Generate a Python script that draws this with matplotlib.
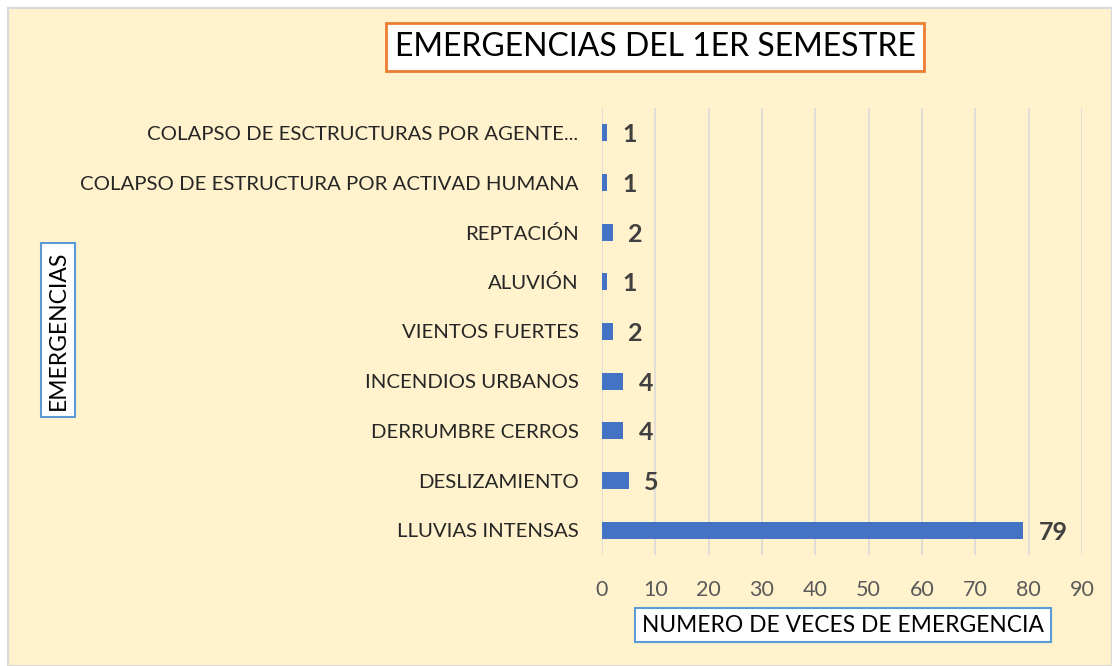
import matplotlib.pyplot as plt
from matplotlib.patches import Rectangle

categorias = ['LLUVIAS INTENSAS', 'DESLIZAMIENTO', 'DERRUMBRE CERROS', 'INCENDIOS URBANOS',
              'VIENTOS FUERTES', 'ALUVIÓN', 'REPTACIÓN',
              'COLAPSO DE ESTRUCTURA POR ACTIVAD HUMANA', 'COLAPSO DE ESCTRUCTURAS POR AGENTE...']
valores = [79, 5, 4, 4, 2, 1, 2, 1, 1]
ticks_x = [0, 10, 20, 30, 40, 50, 60, 70, 80, 90]

plt.rcParams['font.family'] = ['Lato', 'DejaVu Sans']

fig = plt.figure(figsize=(11.12, 6.66), dpi=100)
fig.patch.set_facecolor('white')
# fondo crema con borde gris
fig.add_artist(Rectangle((8 / 1112, 0), 1 - 8 / 1112, 1 - 8 / 666, transform=fig.transFigure,
                         facecolor='#FFF2CC', edgecolor='#D9D9D9', linewidth=1.5, zorder=-10))

ax = fig.add_axes([602 / 1112, 1 - 555 / 666, (1082 - 602) / 1112, (555 - 108) / 666])
ax.set_facecolor('none')
pos = range(len(categorias))
ax.barh(pos, valores, height=0.34, color='#4472C4', zorder=3)
ax.set_xlim(0, 90)
ax.set_ylim(-0.5, len(categorias) - 0.5)
ax.set_xticks(ticks_x)
ax.set_yticks(list(pos))
ax.set_yticklabels(categorias, fontsize=14.7, color='#262626')
ax.tick_params(axis='x', labelsize=15.5, labelcolor='#595959', length=0, pad=18)
ax.tick_params(axis='y', length=0, pad=17)
ax.grid(axis='x', color='#D9D9D9', linewidth=1.2, zorder=0)
for s in ax.spines.values():
    s.set_visible(False)

for i, v in enumerate(valores):
    ax.annotate(str(v), (v, i), textcoords='offset points', xytext=(11, -1.5), va='center',
                fontsize=18, fontweight='bold', color='#404040')

fig.text(655 / 1112, 1 - 47 / 666, 'EMERGENCIAS DEL 1ER SEMESTRE', fontsize=23, ha='center', va='center',
         bbox=dict(boxstyle='square,pad=0.28', facecolor='white', edgecolor='#ED7D31', linewidth=2))
fig.text(58 / 1112, 1 - 330 / 666, 'EMERGENCIAS', fontsize=16.5, rotation=90, ha='center', va='center',
         bbox=dict(boxstyle='square,pad=0.3', facecolor='white', edgecolor='#5B9BD5', linewidth=1.5))
fig.text(843 / 1112, 1 - 625 / 666, 'NUMERO DE VECES DE EMERGENCIA', fontsize=16.4, ha='center', va='center',
         bbox=dict(boxstyle='square,pad=0.3', facecolor='white', edgecolor='#5B9BD5', linewidth=1.5))

fig.savefig('out.png', dpi=100)
